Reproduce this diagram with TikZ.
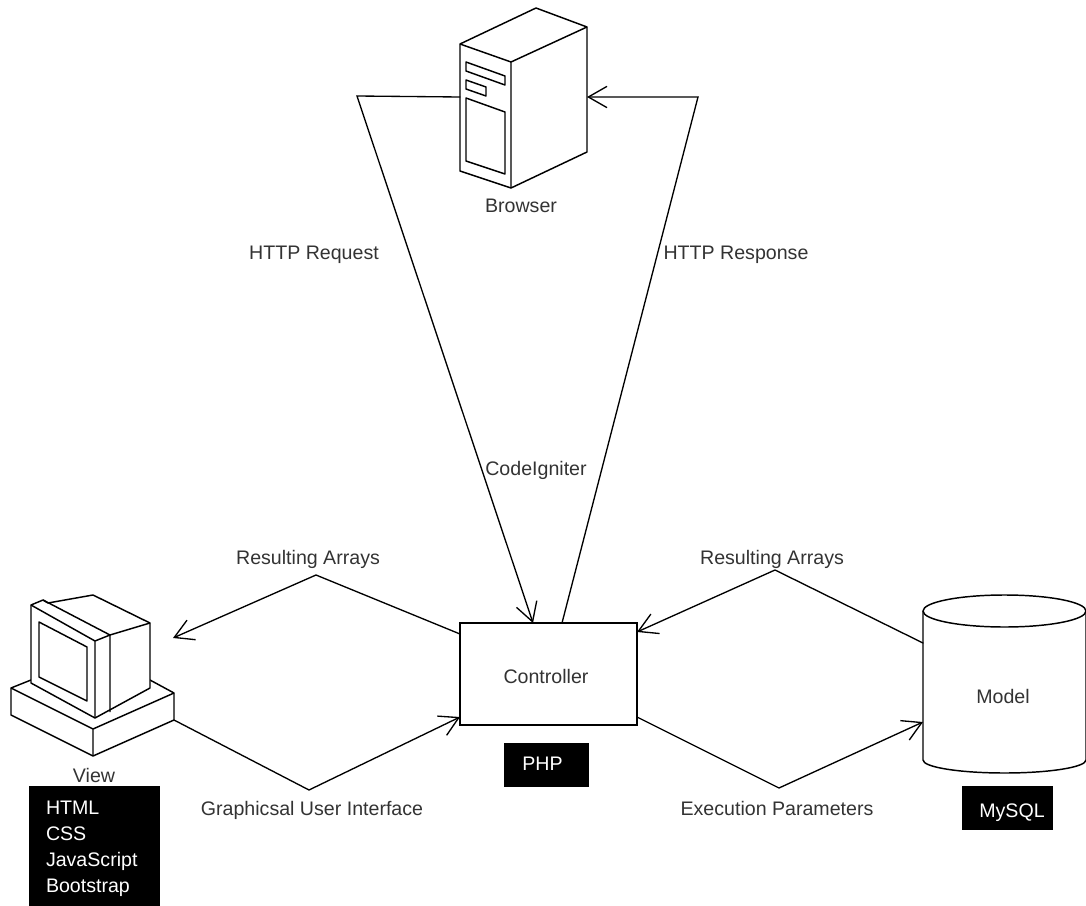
\documentclass[tikz,border=0pt]{standalone}
\usepackage{fontspec}
\setmainfont{Liberation Sans}
\usetikzlibrary{arrows.meta}
\tikzset{
  outline/.style={draw=black,line width=1.1pt,line join=round,fill=white},
  edge/.style={draw=black,line width=1pt,line join=miter,line cap=round},
  conn/.style={edge,-{Straight Barb[length=14pt,width=16pt,line width=1pt]}},
  lbl/.style={inner sep=0pt,anchor=base,text=black!80,font=\fontsize{14.7}{18}\selectfont},
  blackbox/.style={fill=black,inner sep=0pt},
  boxtext/.style={inner sep=0pt,anchor=base,text=white,font=\fontsize{14.7}{18}\selectfont},
  boxlist/.style={inner sep=0pt,text=white,align=left,text width=72.75pt,font=\fontsize{14.7}{19.5}\selectfont},
}
\begin{document}
\begin{tikzpicture}[x=0.75pt,y=-0.75pt]
\useasboundingbox (0,0) rectangle (1086,906);
% anchor points on the pictured shapes
\coordinate (browserL) at (460,97);
\coordinate (browserR) at (587,97);
\coordinate (reqBend) at (357,96);
\coordinate (respBend) at (698,97);
\coordinate (viewIn) at (173,638);
\coordinate (viewOut) at (174,720);
\coordinate (resA) at (316,575);
\coordinate (guiBend) at (309,790);
\coordinate (resB) at (775,570);
\coordinate (exeBend) at (779,788);
\coordinate (modelOut) at (923,643);
\coordinate (modelIn) at (923,722);
% browser
\draw[outline] (460,44) -- (536,8) -- (587,27) -- (587,152) -- (511,188) -- (460,171) -- cycle;
\draw[outline,fill=none] (460,44) -- (511,62) -- (587,27) (511,62) -- (511,188);
\draw[outline] (466,62) -- (505,76) -- (505,85) -- (466,71) -- cycle;
\draw[outline] (466,80) -- (486,87) -- (486,96) -- (466,89) -- cycle;
\draw[outline] (466,98) -- (505,112) -- (505,174) -- (466,161) -- cycle;
\node[lbl] (browserLabel) at (521,212) {Browser};
% monitor
\draw[outline] (31,680) -- (11,688) -- (11,715) -- (93,756) -- (174,720) -- (174,693) -- (150,680) -- cycle;
\draw[outline,fill=none] (11,688) -- (93,729) -- (174,693) (93,729) -- (93,756);
\draw[outline] (48,603) -- (93,595) -- (150,623) -- (150,688) -- (95,718) -- (31,683) -- (31,605) -- (43,600) -- cycle;
\draw[outline,fill=none] (31,605) -- (95,641) -- (95,718) (95,641) -- (110,635) -- (110,712) (110,635) -- (150,623) (43,600) -- (110,635);
\draw[outline] (39,622) -- (87,647) -- (87,701) -- (39,677) -- cycle;
\node[lbl] (viewLabel) at (94,782) {View};
% controller
\node[draw=black,line width=1.1pt,fill=white,minimum width=132.75pt,minimum height=76.5pt] (controller) at (548.5,674) {};
\coordinate (ctlTopL) at (533,623);
\coordinate (ctlTopR) at (562,623);
\coordinate (ctlLU) at (460,634);
\coordinate (ctlLD) at (460,717);
\coordinate (ctlRU) at (637,632);
\coordinate (ctlRD) at (637,717);
\node[lbl] (controllerLabel) at (546,683) {Controller};
% model
\draw[outline] (923,611) -- (923,760) arc[start angle=180,end angle=0,x radius=81.5,y radius=13] -- (1086,611);
\draw[outline] (1004.5,611) ellipse[x radius=81.5,y radius=16];
\node[lbl] (modelLabel) at (1003,703) {Model};
% connectors
\draw[conn] (browserL) -- (reqBend) -- (ctlTopL);
\draw[conn] (ctlTopR) -- (respBend) -- (browserR);
\draw[conn] (ctlLU) -- (resA) -- (viewIn);
\draw[conn] (viewOut) -- (guiBend) -- (ctlLD);
\draw[conn] (modelOut) -- (resB) -- (ctlRU);
\draw[conn] (ctlRD) -- (exeBend) -- (modelIn);
% labels
\node[lbl] (reqLabel) at (314,259) {HTTP Request};
\node[lbl] (respLabel) at (736,259) {HTTP Response};
\node[lbl] (ciLabel) at (536,475) {CodeIgniter};
\node[lbl] (resLabelA) at (308,564) {Resulting Arrays};
\node[lbl] (resLabelB) at (772,564) {Resulting Arrays};
\node[lbl] (guiLabel) at (312,815) {Graphicsal User Interface};
\node[lbl] (exeLabel) at (777,815) {Execution Parameters};
% black boxes
\node[blackbox,minimum width=63.75pt,minimum height=33pt] (php) at (546.5,765) {};
\node[boxtext] (phpLabel) at (542.5,770) {PHP};
\node[blackbox,minimum width=68.25pt,minimum height=33pt] (mysql) at (1007.5,808) {};
\node[boxtext] (mysqlLabel) at (1012,817) {MySQL};
\node[blackbox,minimum width=98.25pt,minimum height=90pt] (techs) at (94.5,846) {};
\node[boxlist] (techsLabel) at (94.5,849) {HTML\\CSS\\JavaScript\\Bootstrap};
\end{tikzpicture}
\end{document}
